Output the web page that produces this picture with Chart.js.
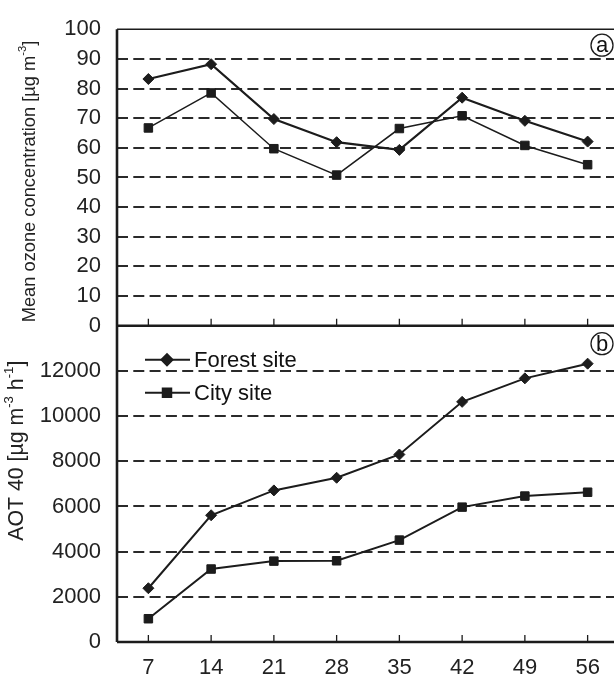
<!DOCTYPE html>
<html>
<head>
<meta charset="utf-8">
<script src="https://cdn.jsdelivr.net/npm/chart.js@4/dist/chart.umd.min.js"></script>
<style>
  html, body { margin: 0; padding: 0; overflow: hidden; background: #fff; }
  #wrap { width: 626px; height: 679px; }
</style>
</head>
<body>
<div id="wrap"><canvas id="graphique" width="626" height="679"></canvas></div>
<script>
// days of exposure
const jours = ['7', '14', '21', '28', '35', '42', '49', '56'];

// (a) mean ozone concentration [µg m-3]
const ozoneForest = [83.2, 88.2, 69.7, 61.9, 59.3, 76.9, 69.1, 62.1];
const ozoneCity = [66.7, 78.5, 59.7, 50.8, 66.5, 70.8, 60.8, 54.3];

// (b) AOT 40 [µg m-3 h-1]
const aotForest = [2380, 5610, 6710, 7270, 8300, 10630, 11670, 12320];
const aotCity = [1030, 3230, 3580, 3595, 4510, 5970, 6460, 6630];

const ozoneTicks = { min: 0, max: 100, step: 10 };
const aotTicks = { min: 0, max: 14000, step: 2000 };

const noir = '#1c1c1c';
const police = "'Liberation Sans', Arial, sans-serif";

// draw text turned 90deg, with superscript bits
function texteVertical(ctx, cx, cy, morceaux, taille) {
    ctx.save();
    ctx.translate(cx, cy);
    ctx.rotate(-Math.PI / 2);
    ctx.fillStyle = '#222';
    ctx.textBaseline = 'middle';
    ctx.textAlign = 'left';
    let total = 0;
    morceaux.forEach(m => {
        ctx.font = (m.sup ? taille * 0.62 : taille) + 'px ' + police;
        total += ctx.measureText(m.t).width;
    });
    let x = -total / 2;
    morceaux.forEach(m => {
        ctx.font = (m.sup ? taille * 0.62 : taille) + 'px ' + police;
        ctx.fillText(m.t, x, m.sup ? -taille * 0.38 : 0);
        x += ctx.measureText(m.t).width;
    });
    ctx.restore();
}

function lettreCerclee(ctx, x, y, lettre) {
    ctx.save();
    ctx.beginPath();
    ctx.arc(x, y, 11, 0, Math.PI * 2);
    ctx.lineWidth = 1.3;
    ctx.strokeStyle = noir;
    ctx.fillStyle = '#fff';
    ctx.fill();
    ctx.stroke();
    ctx.fillStyle = '#111';
    ctx.font = '22px ' + police;
    ctx.textAlign = 'center';
    ctx.textBaseline = 'middle';
    ctx.fillText(lettre, x, y + 1);
    ctx.restore();
}

const cadre = {
    id: 'cadre',
    afterDraw(chart) {
        const ctx = chart.ctx;
        const area = chart.chartArea;
        const yTop = chart.scales.yTop;
        const yBottom = chart.scales.yBottom;
        const x = chart.scales.x;

        ctx.save();
        ctx.strokeStyle = noir;
        // top border of panel a
        ctx.lineWidth = 1.5;
        ctx.beginPath();
        ctx.moveTo(area.left, yTop.top);
        ctx.lineTo(area.right, yTop.top);
        ctx.moveTo(area.right, yTop.top);
        ctx.lineTo(area.right, yBottom.bottom);
        ctx.stroke();
        // left axis + the two bottom axes
        ctx.lineWidth = 2.6;
        ctx.beginPath();
        ctx.moveTo(area.left, yTop.top);
        ctx.lineTo(area.left, yBottom.bottom);
        ctx.moveTo(area.left, yTop.bottom);
        ctx.lineTo(area.right, yTop.bottom);
        ctx.moveTo(area.left, yBottom.bottom);
        ctx.lineTo(area.right, yBottom.bottom);
        ctx.stroke();
        // tick marks pointing up
        ctx.lineWidth = 1.3;
        ctx.beginPath();
        x.ticks.forEach((t, i) => {
            const px = x.getPixelForTick(i);
            ctx.moveTo(px, yTop.bottom);
            ctx.lineTo(px, yTop.bottom - 7);
            ctx.moveTo(px, yBottom.bottom);
            ctx.lineTo(px, yBottom.bottom - 7);
        });
        ctx.stroke();
        ctx.restore();

        // axis titles
        texteVertical(ctx, 30, (yTop.top + yTop.bottom) / 2 + 4, [
            { t: 'Mean ozone concentration [µg m' },
            { t: '-3', sup: true },
            { t: ']' }
        ], 18.3);
        texteVertical(ctx, 17, yBottom.top + 125, [
            { t: 'AOT 40 [µg m' },
            { t: '-3', sup: true },
            { t: ' h' },
            { t: '-1', sup: true },
            { t: ']' }
        ], 21.3);

        // legend (panel b)
        const legende = [
            { nom: 'Forest site', ds: 2 },
            { nom: 'City site', ds: 3 }
        ];
        legende.forEach((l, i) => {
            const ds = chart.data.datasets[l.ds];
            const ly = yBottom.top + 34 + i * 33;
            ctx.save();
            ctx.strokeStyle = noir;
            ctx.lineWidth = 2;
            ctx.beginPath();
            ctx.moveTo(area.left + 28, ly);
            ctx.lineTo(area.left + 73, ly);
            ctx.stroke();
            ctx.fillStyle = noir;
            Chart.helpers.drawPoint(ctx, {
                pointStyle: ds.pointStyle,
                radius: ds.pointRadius,
                borderWidth: 1
            }, area.left + 50, ly);
            ctx.fill();
            ctx.fillStyle = '#111';
            ctx.font = '22px ' + police;
            ctx.textBaseline = 'middle';
            ctx.fillText(l.nom, area.left + 77, ly + 1);
            ctx.restore();
        });

        lettreCerclee(ctx, 602, yTop.top + 16, 'a');
        lettreCerclee(ctx, 602, yBottom.top + 18, 'b');
    }
};

function grilleCouleur(bornes) {
    return c => (c.tick && (c.tick.value === bornes.min || c.tick.value === bornes.max)) ? 'rgba(0,0,0,0)' : '#2a2a2a';
}

const graph = document.getElementById('graphique');

new Chart(graph, {
    type: 'line',
    data: {
        labels: jours,
        datasets: [
            {
                label: 'Forest site',
                data: ozoneForest,
                yAxisID: 'yTop',
                borderColor: noir,
                backgroundColor: noir,
                borderWidth: 2.2,
                pointStyle: 'rectRot',
                pointRadius: 5.5,
                pointBorderWidth: 1
            },
            {
                label: 'City site',
                data: ozoneCity,
                yAxisID: 'yTop',
                borderColor: noir,
                backgroundColor: noir,
                borderWidth: 1.5,
                pointStyle: 'rect',
                pointRadius: 6,
                pointBorderWidth: 1
            },
            {
                label: 'Forest site',
                data: aotForest,
                yAxisID: 'yBottom',
                borderColor: noir,
                backgroundColor: noir,
                borderWidth: 2,
                pointStyle: 'rectRot',
                pointRadius: 5.5,
                pointBorderWidth: 1
            },
            {
                label: 'City site',
                data: aotCity,
                yAxisID: 'yBottom',
                borderColor: noir,
                backgroundColor: noir,
                borderWidth: 2,
                pointStyle: 'rect',
                pointRadius: 6,
                pointBorderWidth: 1
            }
        ]
    },
    options: {
        responsive: false,
        animation: false,
        devicePixelRatio: 1,
        layout: { padding: { top: 22, right: 1, bottom: 0, left: 0 } },
        plugins: {
            legend: { display: false },
            tooltip: { enabled: false }
        },
        elements: { line: { tension: 0 } },
        scales: {
            x: {
                type: 'category',
                offset: true,
                grid: { display: false, drawTicks: false },
                border: { display: false },
                ticks: {
                    color: '#222',
                    padding: 13,
                    maxRotation: 0,
                    autoSkip: false,
                    font: { family: police, size: 22 }
                },
                afterFit: s => { s.height = 37; }
            },
            // stacked panels: the one declared first ends up at the bottom
            yBottom: {
                type: 'linear',
                position: 'left',
                stack: 'panneaux',
                stackWeight: 320,
                min: aotTicks.min,
                max: aotTicks.max,
                ticks: {
                    stepSize: aotTicks.step,
                    autoSkip: false,
                    color: '#222',
                    padding: 16,
                    font: { family: police, size: 22 },
                    callback: v => v === aotTicks.max ? '' : v
                },
                grid: { color: grilleCouleur(aotTicks), lineWidth: 2, drawTicks: false },
                border: { display: false, dash: [11, 5.3] },
                afterFit: s => { s.width = 117; }
            },
            yTop: {
                type: 'linear',
                position: 'left',
                stack: 'panneaux',
                stackWeight: 300,
                min: ozoneTicks.min,
                max: ozoneTicks.max,
                ticks: {
                    stepSize: ozoneTicks.step,
                    autoSkip: false,
                    color: '#222',
                    padding: 16,
                    font: { family: police, size: 22 }
                },
                grid: { color: grilleCouleur(ozoneTicks), lineWidth: 2, drawTicks: false },
                border: { display: false, dash: [11, 5.3] },
                afterFit: s => { s.width = 117; }
            }
        }
    },
    plugins: [cadre]
});
</script>
</body>
</html>
